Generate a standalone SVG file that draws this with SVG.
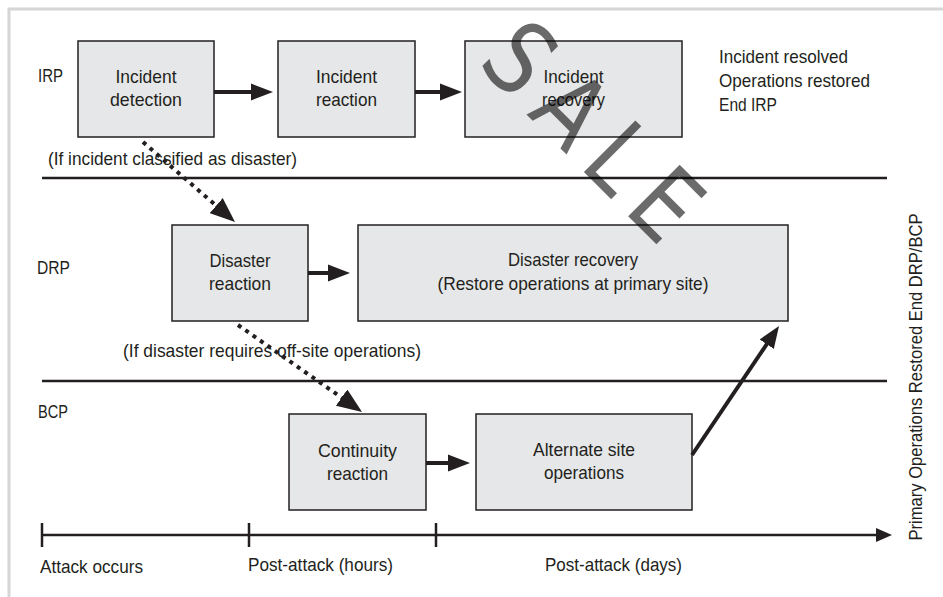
<svg xmlns="http://www.w3.org/2000/svg" width="943" height="597" viewBox="0 0 943 597">
  <style>
    .t { font-family: "Liberation Sans", Arial, sans-serif; font-size: 19px; fill: #231f20; }
    .box { fill: #e6e7e8; stroke: #231f20; stroke-width: 1.5; }
    .lane { stroke: #231f20; stroke-width: 2.5; }
    .flow { stroke: #231f20; stroke-width: 4; fill: none; }
    .dot { stroke: #231f20; stroke-width: 4; stroke-dasharray: 4 5; fill: none; }
    .axis { stroke: #231f20; stroke-width: 2.5; fill: none; }
    .frame { stroke: #d6d6d6; stroke-width: 3; }
    .mark { font-family: "DejaVu Sans", sans-serif; font-size: 100px; letter-spacing: 18px; fill: #000; fill-opacity: 0.58; }
  </style>
  <defs>
    <marker id="head" markerUnits="userSpaceOnUse" viewBox="0 -9 23 18" markerWidth="23" markerHeight="18" refX="1" refY="0" orient="auto">
      <path d="M0,-8.5 L22,0 L0,8.5 Z" fill="#231f20"/>
    </marker>
    <marker id="head-dot" markerUnits="userSpaceOnUse" viewBox="0 -10 26 20" markerWidth="26" markerHeight="20" refX="1" refY="0" orient="auto">
      <path d="M0,-10 L25,0 L0,10 Z" fill="#231f20"/>
    </marker>
    <marker id="head-axis" markerUnits="userSpaceOnUse" viewBox="0 -7 17 14" markerWidth="17" markerHeight="14" refX="1" refY="0" orient="auto">
      <path d="M0,-7 L16,0 L0,7 Z" fill="#231f20"/>
    </marker>
  </defs>

  <rect width="943" height="597" fill="#ffffff"/>

  <!-- page frame -->
  <g id="frame">
    <line class="frame" x1="8" y1="9" x2="943" y2="9"/>
    <line class="frame" x1="9" y1="8" x2="9" y2="597"/>
  </g>

  <!-- swim lane separators and labels -->
  <g id="lanes">
    <line class="lane" x1="42" y1="178" x2="887" y2="178"/>
    <line class="lane" x1="42" y1="381" x2="887" y2="381"/>
    <text class="t" x="38" y="82" textLength="25" lengthAdjust="spacingAndGlyphs">IRP</text>
    <text class="t" x="37" y="274" textLength="33" lengthAdjust="spacingAndGlyphs">DRP</text>
    <text class="t" x="38" y="418" textLength="30" lengthAdjust="spacingAndGlyphs">BCP</text>
  </g>

  <!-- IRP lane -->
  <g id="incident-detection">
    <rect class="box" x="78" y="41" width="136" height="96"/>
    <text class="t" x="146" y="83" text-anchor="middle" textLength="61" lengthAdjust="spacingAndGlyphs">Incident</text>
    <text class="t" x="146" y="106" text-anchor="middle" textLength="72" lengthAdjust="spacingAndGlyphs">detection</text>
  </g>
  <g id="incident-reaction">
    <rect class="box" x="278" y="41" width="137" height="96"/>
    <text class="t" x="346.5" y="83" text-anchor="middle" textLength="61" lengthAdjust="spacingAndGlyphs">Incident</text>
    <text class="t" x="346.5" y="106" text-anchor="middle" textLength="61" lengthAdjust="spacingAndGlyphs">reaction</text>
  </g>
  <g id="incident-recovery">
    <rect class="box" x="465" y="41" width="217" height="96"/>
    <text class="t" x="573.5" y="83" text-anchor="middle" textLength="60" lengthAdjust="spacingAndGlyphs">Incident</text>
    <text class="t" x="573.5" y="106" text-anchor="middle" textLength="63" lengthAdjust="spacingAndGlyphs">recovery</text>
  </g>
  <g id="irp-end">
    <text class="t" x="719" y="63" textLength="129" lengthAdjust="spacingAndGlyphs">Incident resolved</text>
    <text class="t" x="719" y="87" textLength="151" lengthAdjust="spacingAndGlyphs">Operations restored</text>
    <text class="t" x="719" y="111" textLength="58" lengthAdjust="spacingAndGlyphs">End IRP</text>
  </g>
  <g id="irp-condition">
    <text class="t" x="48" y="165" textLength="249" lengthAdjust="spacingAndGlyphs">(If incident classified as disaster)</text>
  </g>

  <!-- DRP lane -->
  <g id="disaster-reaction">
    <rect class="box" x="172" y="225" width="136" height="96"/>
    <text class="t" x="240" y="267" text-anchor="middle" textLength="61" lengthAdjust="spacingAndGlyphs">Disaster</text>
    <text class="t" x="240" y="290" text-anchor="middle" textLength="62" lengthAdjust="spacingAndGlyphs">reaction</text>
  </g>
  <g id="disaster-recovery">
    <rect class="box" x="358" y="225" width="430" height="96"/>
    <text class="t" x="573" y="266" text-anchor="middle" textLength="130" lengthAdjust="spacingAndGlyphs">Disaster recovery</text>
    <text class="t" x="573" y="290" text-anchor="middle" textLength="271" lengthAdjust="spacingAndGlyphs">(Restore operations at primary site)</text>
  </g>
  <g id="drp-condition">
    <text class="t" x="123" y="357" textLength="298" lengthAdjust="spacingAndGlyphs">(If disaster requires off-site operations)</text>
  </g>

  <!-- BCP lane -->
  <g id="continuity-reaction">
    <rect class="box" x="289" y="414" width="137" height="96"/>
    <text class="t" x="357.5" y="457" text-anchor="middle" textLength="79" lengthAdjust="spacingAndGlyphs">Continuity</text>
    <text class="t" x="357.5" y="480" text-anchor="middle" textLength="61" lengthAdjust="spacingAndGlyphs">reaction</text>
  </g>
  <g id="alternate-site">
    <rect class="box" x="476" y="414" width="216" height="96"/>
    <text class="t" x="584" y="456" text-anchor="middle" textLength="102" lengthAdjust="spacingAndGlyphs">Alternate site</text>
    <text class="t" x="584" y="479" text-anchor="middle" textLength="80" lengthAdjust="spacingAndGlyphs">operations</text>
  </g>

  <!-- time axis -->
  <g id="timeline">
    <line class="axis" x1="42" y1="535" x2="877" y2="535" marker-end="url(#head-axis)"/>
    <line class="axis" x1="42" y1="523" x2="42" y2="547"/>
    <line class="axis" x1="249" y1="523" x2="249" y2="547"/>
    <line class="axis" x1="436" y1="523" x2="436" y2="547"/>
    <text class="t" x="40" y="573" textLength="103" lengthAdjust="spacingAndGlyphs">Attack occurs</text>
    <text class="t" x="248" y="571" textLength="145" lengthAdjust="spacingAndGlyphs">Post-attack (hours)</text>
    <text class="t" x="545" y="571" textLength="137" lengthAdjust="spacingAndGlyphs">Post-attack (days)</text>
  </g>
  <g id="primary-restored">
    <text class="t" transform="translate(922,377) rotate(-90)" text-anchor="middle" textLength="327" lengthAdjust="spacingAndGlyphs">Primary Operations Restored End DRP/BCP</text>
  </g>

  <!-- connectors -->
  <g id="connectors">
    <line class="flow" x1="214" y1="92" x2="252" y2="92" marker-end="url(#head)"/>
    <line class="flow" x1="415" y1="92" x2="441" y2="92" marker-end="url(#head)"/>
    <line class="flow" x1="308" y1="273" x2="329" y2="273" marker-end="url(#head)"/>
    <line class="flow" x1="426" y1="463" x2="449" y2="463" marker-end="url(#head)"/>
    <line class="flow" x1="692" y1="455" x2="767.3" y2="343.4" marker-end="url(#head)"/>
    <line class="dot" x1="143" y1="142" x2="216.9" y2="206.3" marker-end="url(#head-dot)"/>
    <line class="dot" x1="238" y1="325" x2="342.4" y2="398.2" marker-end="url(#head-dot)"/>
  </g>

  <!-- overprinted stamp -->
  <g id="stamp">
    <text class="mark" transform="translate(476,64) rotate(45) scale(0.85,1)">SALE</text>
  </g>
</svg>
